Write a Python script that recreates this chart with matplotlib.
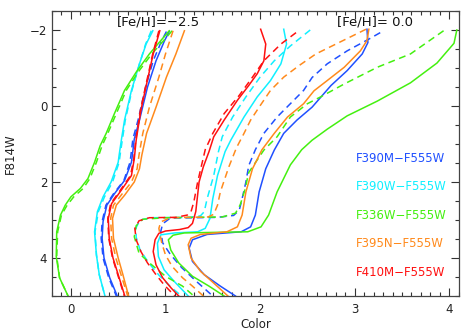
import matplotlib
matplotlib.use("Agg")
import matplotlib.pyplot as plt
from matplotlib.ticker import MultipleLocator

# colours of the five filter combinations
c_390m = '#2050ff'
c_390w = '#10f0ff'
c_336w = '#44f010'
c_395n = '#ff8a1c'
c_410m = '#ff1010'

# ---- [Fe/H] = -2.5 isochrones (color, F814W) ----
mp_390m_x = [1.04, 0.99, 0.90, 0.81, 0.725, 0.67, 0.65, 0.64, 0.567, 0.46, 0.38, 0.34, 0.33, 0.35, 0.41, 0.49]
mp_390m_y = [-1.96, -1.72, -1.19, -0.5, 0.37, 0.87, 1.29, 1.48, 1.96, 2.31, 2.61, 3.04, 3.48, 4.0, 4.52, 5.0]
mp_390m_dx = [1.01, 0.96, 0.87, 0.79, 0.71, 0.655, 0.635, 0.625, 0.56, 0.45, 0.37, 0.33, 0.32, 0.34, 0.40, 0.48]

mp_390w_x = [0.866, 0.795, 0.725, 0.64, 0.567, 0.535, 0.51, 0.50, 0.425, 0.34, 0.28, 0.25, 0.27, 0.30, 0.36]
mp_390w_y = [-1.98, -1.63, -1.11, -0.41, 0.37, 0.87, 1.29, 1.48, 2.0, 2.39, 2.78, 3.31, 3.92, 4.44, 5.0]
mp_390w_dx = [0.85, 0.79, 0.725, 0.645, 0.575, 0.545, 0.52, 0.51, 0.44, 0.355, 0.29, 0.255, 0.27, 0.30, 0.36]

mp_336w_x = [1.04, 0.95, 0.83, 0.69, 0.567, 0.46, 0.373, 0.31, 0.25, 0.18, 0.10, 0.0, -0.06, -0.11, -0.15, -0.155, -0.12, -0.03]
mp_336w_y = [-1.98, -1.72, -1.37, -0.89, -0.41, 0.2, 0.72, 1.04, 1.48, 1.91, 2.17, 2.39, 2.61, 2.87, 3.31, 3.96, 4.52, 5.0]
mp_336w_dx = [1.07, 0.98, 0.855, 0.71, 0.585, 0.48, 0.39, 0.33, 0.27, 0.20, 0.13, 0.03, -0.04, -0.10, -0.14, -0.15, -0.12, -0.03]

mp_395n_x = [1.20, 1.11, 1.01, 0.90, 0.80, 0.75, 0.725, 0.67, 0.567, 0.48, 0.44, 0.45, 0.50, 0.55, 0.61]
mp_395n_y = [-1.98, -1.37, -0.76, 0.03, 0.72, 1.29, 1.65, 2.0, 2.35, 2.61, 2.96, 3.48, 4.0, 4.44, 5.0]
mp_395n_dx = [1.08, 1.00, 0.93, 0.83, 0.76, 0.72, 0.70, 0.64, 0.53, 0.45, 0.42, 0.43, 0.475, 0.53, 0.60]

mp_410m_x = [0.94, 0.87, 0.80, 0.74, 0.69, 0.67, 0.64, 0.52, 0.43, 0.395, 0.405, 0.445, 0.50, 0.57]
mp_410m_y = [-1.98, -1.37, -0.58, 0.11, 0.9, 1.39, 1.83, 2.26, 2.57, 2.96, 3.48, 4.0, 4.44, 5.0]
mp_410m_dx = [0.93, 0.865, 0.795, 0.735, 0.685, 0.665, 0.63, 0.51, 0.42, 0.39, 0.40, 0.44, 0.495, 0.565]

# ---- [Fe/H] = 0.0 isochrones ----
sol_390m_x = [3.13, 3.14, 3.08, 2.92, 2.75, 2.55, 2.39, 2.25, 2.15, 2.06, 1.99, 1.95, 1.90, 1.80, 1.44, 1.285, 1.25, 1.285, 1.41, 1.58, 1.74]
sol_390m_y = [-2.02, -1.67, -1.37, -0.93, -0.54, 0.03, 0.37, 0.72, 1.16, 1.65, 2.26, 2.87, 3.18, 3.31, 3.38, 3.52, 3.74, 4.09, 4.44, 4.74, 5.0]
sol_390m_dx = [3.27, 3.15, 2.92, 2.71, 2.55, 2.46, 2.32, 2.18, 2.04, 1.95, 1.88, 1.85, 1.81, 1.78, 1.72, 1.55, 1.05, 0.97, 0.95, 0.97, 1.05, 1.17, 1.32, 1.50]
sol_390m_dy = [-1.93, -1.76, -1.45, -1.11, -0.75, -0.41, -0.06, 0.29, 0.72, 1.15, 1.57, 2.0, 2.44, 2.74, 2.88, 2.93, 2.95, 3.1, 3.3, 3.6, 3.9, 4.25, 4.6, 5.0]

sol_390w_x = [2.25, 2.28, 2.22, 2.11, 1.97, 1.83, 1.69, 1.63, 1.55, 1.50, 1.47, 1.42, 1.34, 1.10, 0.95, 0.915, 0.925, 0.985, 1.09, 1.24]
sol_390w_y = [-2.02, -1.63, -1.11, -0.67, -0.24, 0.29, 0.9, 1.2, 1.83, 2.44, 2.96, 3.22, 3.31, 3.34, 3.39, 3.61, 3.96, 4.31, 4.61, 5.0]
sol_390w_dx = [2.53, 2.32, 2.15, 2.0, 1.85, 1.71, 1.60, 1.56, 1.51, 1.44, 1.41, 1.37, 1.25, 0.85, 0.73, 0.69, 0.69, 0.73, 0.82, 0.93, 1.05, 1.17]
sol_390w_dy = [-2.0, -1.58, -1.19, -0.76, -0.24, 0.29, 0.81, 1.2, 1.83, 2.44, 2.78, 2.89, 2.93, 2.94, 3.0, 3.2, 3.45, 3.78, 4.12, 4.45, 4.75, 5.0]

sol_336w_x = [4.08, 4.05, 3.87, 3.59, 3.24, 2.92, 2.71, 2.55, 2.44, 2.32, 2.18, 2.09, 2.01, 1.87, 1.2, 1.08, 1.03, 1.056, 1.14, 1.285, 1.46, 1.62]
sol_336w_y = [-2.0, -1.65, -1.13, -0.61, -0.13, 0.26, 0.61, 0.9, 1.15, 1.55, 2.26, 2.87, 3.18, 3.31, 3.34, 3.4, 3.52, 3.79, 4.13, 4.48, 4.74, 5.0]
sol_336w_dx = [3.94, 3.59, 3.24, 2.89, 2.64, 2.50, 2.32, 2.18, 2.04, 1.88, 1.84, 1.79, 1.74, 1.60, 1.0, 0.76, 0.69, 0.67, 0.72, 0.83, 1.0, 1.18, 1.30]
sol_336w_dy = [-1.98, -1.37, -1.02, -0.58, -0.24, -0.06, 0.29, 0.81, 1.16, 1.75, 2.2, 2.6, 2.82, 2.92, 2.94, 2.98, 3.15, 3.44, 3.87, 4.13, 4.48, 4.74, 5.0]

sol_395n_x = [3.15, 3.13, 3.06, 2.89, 2.71, 2.57, 2.46, 2.29, 2.15, 2.02, 1.92, 1.85, 1.81, 1.76, 1.65, 1.37, 1.27, 1.24, 1.27, 1.37, 1.51, 1.66]
sol_395n_y = [-2.02, -1.72, -1.45, -1.02, -0.67, -0.4, -0.06, 0.29, 0.72, 1.15, 1.65, 2.26, 2.87, 3.18, 3.31, 3.38, 3.48, 3.65, 4.0, 4.35, 4.66, 5.0]
sol_395n_dx = [3.12, 2.59, 2.41, 2.25, 2.11, 1.99, 1.90, 1.83, 1.75, 1.67, 1.58, 1.55, 1.51, 1.45, 1.05, 0.95, 0.93, 0.96, 1.0, 1.07, 1.18, 1.285, 1.40]
sol_395n_dy = [-2.02, -1.37, -1.06, -0.76, -0.41, 0.03, 0.37, 0.72, 1.1, 1.6, 2.26, 2.61, 2.85, 2.92, 2.94, 3.05, 3.22, 3.6, 3.92, 4.22, 4.52, 4.74, 5.0]

sol_410m_x = [2.006, 2.06, 2.04, 1.97, 1.88, 1.76, 1.62, 1.51, 1.46, 1.40, 1.355, 1.32, 1.285, 1.24, 1.15, 1.00, 0.93, 0.89, 0.87, 0.90, 0.97, 1.06, 1.14]
sol_410m_y = [-2.02, -1.63, -1.19, -0.85, -0.54, -0.15, 0.37, 0.81, 1.2, 1.6, 2.0, 2.78, 3.09, 3.2, 3.25, 3.29, 3.35, 3.52, 3.83, 4.18, 4.52, 4.79, 5.0]
sol_410m_dx = [2.38, 2.22, 2.04, 1.92, 1.78, 1.62, 1.50, 1.42, 1.34, 1.30, 1.27, 1.23, 1.11, 0.83, 0.72, 0.676, 0.69, 0.74, 0.81, 0.90, 0.99, 1.10]
sol_410m_dy = [-1.93, -1.63, -1.19, -0.76, -0.28, 0.2, 0.72, 1.15, 2.0, 2.52, 2.78, 2.87, 2.93, 2.94, 3.02, 3.22, 3.52, 3.83, 4.13, 4.44, 4.72, 5.0]

labels = ['F390M\u2212F555W', 'F390W\u2212F555W', 'F336W\u2212F555W', 'F395N\u2212F555W', 'F410M\u2212F555W']
label_colors = [c_390m, c_390w, c_336w, c_395n, c_410m]
label_y = [1.39, 2.13, 2.87, 3.63, 4.37]

fig = plt.figure(figsize=(4.65, 3.32), dpi=100)
ax = fig.add_axes([0.1118, 0.1084, 0.8747, 0.8585])

lw = 1.1
dash = (4.5, 3)

# metal poor set
for sx, dx, y, c in [(mp_390m_x, mp_390m_dx, mp_390m_y, c_390m),
                     (mp_390w_x, mp_390w_dx, mp_390w_y, c_390w),
                     (mp_336w_x, mp_336w_dx, mp_336w_y, c_336w),
                     (mp_395n_x, mp_395n_dx, mp_395n_y, c_395n),
                     (mp_410m_x, mp_410m_dx, mp_410m_y, c_410m)]:
    ax.plot(dx, y, color=c, lw=lw, dashes=dash)
    ax.plot(sx, y, color=c, lw=lw)

# solar set
for sx, sy, dx, dy, c in [(sol_390m_x, sol_390m_y, sol_390m_dx, sol_390m_dy, c_390m),
                          (sol_390w_x, sol_390w_y, sol_390w_dx, sol_390w_dy, c_390w),
                          (sol_336w_x, sol_336w_y, sol_336w_dx, sol_336w_dy, c_336w),
                          (sol_395n_x, sol_395n_y, sol_395n_dx, sol_395n_dy, c_395n),
                          (sol_410m_x, sol_410m_y, sol_410m_dx, sol_410m_dy, c_410m)]:
    ax.plot(dx, dy, color=c, lw=lw, dashes=dash)
    ax.plot(sx, sy, color=c, lw=lw)

ax.set_xlim(-0.2, 4.1)
ax.set_ylim(5.0, -2.5)

ax.xaxis.set_major_locator(MultipleLocator(1))
ax.xaxis.set_minor_locator(MultipleLocator(0.1))
ax.yaxis.set_major_locator(MultipleLocator(2))
ax.yaxis.set_minor_locator(MultipleLocator(0.5))
ax.tick_params(which='both', direction='in', top=True, right=True, colors='#333333', labelcolor='#222222', labelsize=8.5)
ax.tick_params(which='major', length=6, width=0.8)
ax.tick_params(which='minor', length=3, width=0.8)
ax.tick_params(axis='x', pad=5)
for s in ax.spines.values():
    s.set_color('#444444')
    s.set_linewidth(0.9)

ax.set_xlabel('Color', fontsize=8.5, color='#222222', labelpad=1.5)
ax.set_ylabel('F814W', fontsize=8.5, color='#222222', labelpad=9)

ax.text(0.93, -2.2, '[Fe/H]=\u22122.5', fontsize=9.5, ha='center', va='center', color='#111111')
ax.text(3.22, -2.2, '[Fe/H]= 0.0', fontsize=9.5, ha='center', va='center', color='#111111')

for lab, c, yy in zip(labels, label_colors, label_y):
    ax.text(3.01, yy, lab, color=c, fontsize=8.5, ha='left', va='center')

fig.savefig('out.png', dpi=100)
